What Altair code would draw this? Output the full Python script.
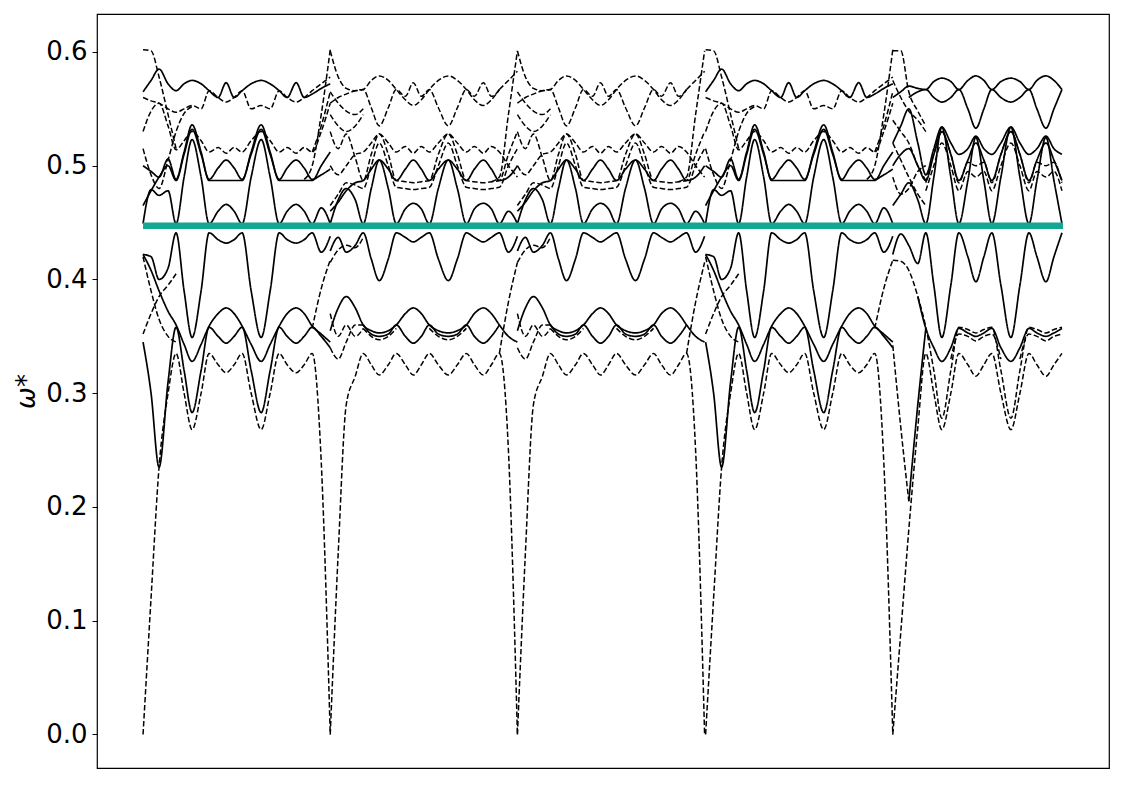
import altair as alt
import pandas as pd

N = None

# position grid inside one segment of the path (same units as x axis)
GRID_T = [0, 8, 16, 25, 33, 41, 49, 58, 66, 75, 83, 91, 99, 108, 118, 127, 136, 144, 153, 161, 169, 178, 187]
SEG_STARTS = [0, 187, 374, 562, 749]
SEG_TYPES = ["A", "B", "B", "A", "C"]
X_END = 919
GAP_LEVEL = 0.4472

# ---- segment type A (1st and 4th segment) ----
A_S1 = [0.449, 0.479, 0.474, 0.478, 0.449, 0.490, 0.523, 0.490, 0.449, 0.460, 0.466, 0.460, 0.449, 0.490, 0.523, 0.490, 0.449, 0.460, 0.466, 0.460, 0.449, 0.463, 0.449]
A_S2 = [0.500, 0.495, 0.490, 0.506, 0.488, 0.512, 0.536, 0.512, 0.487, 0.487, 0.487, 0.487, 0.487, 0.512, 0.536, 0.512, 0.487, 0.487, 0.487, 0.487, 0.487, 0.500, 0.512]
A_S3 = [0.465, 0.478, 0.490, 0.500, 0.487, 0.510, 0.532, 0.510, 0.488, 0.498, 0.505, 0.498, 0.488, 0.510, 0.532, 0.510, 0.488, 0.498, 0.505, 0.498, 0.488, 0.492, 0.497]
A_S4 = [0.565, 0.575, 0.585, 0.572, 0.566, 0.572, 0.575, 0.572, 0.566, 0.560, 0.573, 0.560, 0.566, 0.572, 0.575, 0.572, 0.566, 0.560, 0.573, 0.560, 0.563, 0.568, 0.572]
A_D1 = [0.530, 0.548, 0.555, 0.535, 0.514, 0.522, 0.530, 0.522, 0.512, 0.516, 0.511, 0.516, 0.512, 0.522, 0.530, 0.522, 0.512, 0.516, 0.511, 0.516, 0.512, 0.530, 0.555]
A_D2 = [0.560, 0.557, 0.555, 0.550, 0.547, 0.550, 0.553, 0.550, 0.566, 0.560, 0.556, 0.560, 0.566, 0.550, 0.553, 0.550, 0.566, 0.560, 0.556, 0.560, 0.566, 0.572, 0.578]
A_D3 = [0.602, 0.601, 0.578, 0.545, 0.515] + [N] * 18
A_D4 = [0.515, 0.492, 0.480, 0.505, 0.530, 0.546, 0.552] + [N] * 16
A_D5 = [N] * 19 + [0.488, 0.500, 0.545, 0.602]
A_D6 = [N] * 20 + [0.512, 0.535, 0.565]
A_L1 = [0.422, 0.420, 0.400, 0.410, 0.441, 0.390, 0.349, 0.390, 0.441, 0.435, 0.432, 0.435, 0.441, 0.390, 0.349, 0.390, 0.441, 0.435, 0.432, 0.435, 0.441, 0.424, 0.438]
A_L2 = [0.422, 0.408, 0.390, 0.372, 0.360, 0.343, 0.328, 0.343, 0.359, 0.370, 0.375, 0.370, 0.359, 0.343, 0.328, 0.343, 0.359, 0.370, 0.375, 0.370, 0.359, 0.352, 0.345]
A_L4 = [0.345, 0.300, 0.235, 0.310, 0.358, 0.320, 0.283, 0.320, 0.358, 0.350, 0.344, 0.350, 0.358, 0.320, 0.283, 0.320, 0.358, 0.350, 0.344, 0.350, 0.358, 0.350, 0.340]
A_LD1 = [0.000, 0.120, 0.235, 0.300, 0.335, 0.300, 0.268, 0.300, 0.335, 0.325, 0.318, 0.325, 0.335, 0.300, 0.268, 0.300, 0.335, 0.325, 0.318, 0.325, 0.335, 0.240, 0.000]
A_LD2 = [0.420, 0.390, 0.365, 0.350, 0.345] + [N] * 18
A_LD3 = [0.352, 0.370, 0.385, 0.395, 0.405] + [N] * 18
A_LD4 = [N] * 20 + [0.357, 0.392, 0.417]

# ---- segment type B (2nd and 3rd segment) ----
B_S1 = [0.449, 0.470, 0.480, 0.470, 0.449, 0.480, 0.505, 0.480, 0.449, 0.462, 0.467, 0.462, 0.449, 0.480, 0.505, 0.480, 0.449, 0.462, 0.467, 0.462, 0.449, 0.460, 0.449]
B_S2 = [0.460, 0.468, 0.478, 0.485, 0.487, 0.497, 0.505, 0.497, 0.487, 0.497, 0.505, 0.497, 0.487, 0.497, 0.505, 0.497, 0.487, 0.497, 0.505, 0.497, 0.487, 0.490, 0.500]
B_D1 = [0.530, 0.515, 0.528, 0.507, 0.487, 0.510, 0.528, 0.510, 0.487, 0.486, 0.485, 0.486, 0.487, 0.510, 0.528, 0.510, 0.487, 0.486, 0.485, 0.486, 0.487, 0.510, 0.530]
B_D2 = [0.500, 0.492, 0.500, 0.510, 0.512, 0.520, 0.528, 0.520, 0.512, 0.517, 0.511, 0.517, 0.512, 0.520, 0.528, 0.520, 0.512, 0.517, 0.511, 0.517, 0.512, 0.500, 0.490]
B_D8 = [0.465, 0.475, 0.485, 0.483, 0.480, 0.500, 0.520, 0.500, 0.481, 0.480, 0.479, 0.480, 0.481, 0.500, 0.520, 0.500, 0.481, 0.480, 0.479, 0.480, 0.481, 0.500, 0.515]
B_D3 = [0.601, 0.578, 0.568, 0.566, 0.567, 0.575, 0.579, 0.575, 0.567, 0.558, 0.553, 0.558, 0.567, 0.575, 0.579, 0.575, 0.567, 0.558, 0.553, 0.558, 0.567, N, N]
B_D4 = [0.555, 0.560, 0.563, 0.566, 0.567, 0.551, 0.535, 0.551, 0.567, 0.561, 0.573, 0.561, 0.567, 0.551, 0.535, 0.551, 0.567, 0.561, 0.573, 0.561, 0.567, N, N]
B_D6 = [0.565, 0.555, 0.548, 0.545, 0.550] + [N] * 18
B_D7 = [0.545, 0.535, 0.530, 0.535, 0.545] + [N] * 18
B_D9 = [N] * 19 + [0.486, 0.490, 0.545, 0.601]
B_D10 = [N] * 20 + [0.567, 0.575, 0.583]
B_L1 = [0.425, 0.437, 0.424, 0.430, 0.441, 0.418, 0.399, 0.418, 0.441, 0.437, 0.433, 0.437, 0.441, 0.418, 0.399, 0.418, 0.441, 0.437, 0.433, 0.437, 0.441, 0.424, 0.438]
B_L2 = [0.355, 0.375, 0.385, 0.375, 0.360, 0.355, 0.353, 0.355, 0.360, 0.370, 0.375, 0.370, 0.360, 0.355, 0.353, 0.355, 0.360, 0.370, 0.375, 0.370, 0.360, 0.350, 0.345]
B_L3 = [N, N, N, N, 0.360, 0.352, 0.350, 0.352, 0.360, 0.350, 0.344, 0.350, 0.360, 0.352, 0.350, 0.352, 0.360, 0.350, 0.344, 0.350, 0.360, N, N]
B_LD2 = [N, N, N, N, 0.357, 0.350, 0.347, 0.350, 0.357, N, N, N, 0.357, 0.350, 0.347, 0.350, 0.357, N, N, N, N, N, N]
B_LD1 = [0.000, 0.160, 0.290, 0.315, 0.335, 0.325, 0.316, 0.325, 0.335, 0.325, 0.316, 0.325, 0.335, 0.325, 0.316, 0.325, 0.335, 0.325, 0.316, 0.325, 0.335, 0.250, 0.000]
B_LD3 = [0.415, 0.426, 0.430, 0.428, 0.437] + [N] * 18
B_LD4 = [0.370, 0.350, 0.360, 0.350, 0.357] + [N] * 18
B_LD5 = [0.340, 0.330, 0.345, 0.360, 0.360] + [N] * 18
B_LD6 = [N] * 20 + [0.335, 0.380, 0.415]

# ---- segment type C (last, shorter segment) ----
C_S1 = [0.465, 0.475, 0.485, 0.470, 0.449, 0.490, 0.534, 0.490, 0.449, 0.487, 0.525, 0.487, 0.449, 0.490, 0.534, 0.490, 0.449, 0.487, 0.525, 0.487, 0.449]
C_M1 = [0.520, 0.535, 0.550, 0.520, 0.492, 0.515, 0.534, 0.520, 0.510, 0.515, 0.526, 0.515, 0.510, 0.520, 0.534, 0.520, 0.510, 0.515, 0.526, 0.515, 0.510]
C_M2 = [0.500, 0.510, 0.515, 0.500, 0.487, 0.510, 0.530, 0.510, 0.487, 0.505, 0.520, 0.505, 0.487, 0.510, 0.530, 0.510, 0.487, 0.505, 0.520, 0.505, 0.487]
C_D5 = [N, N, N, N, 0.485, 0.510, 0.530, 0.510, 0.485, 0.503, 0.500, 0.503, 0.485, 0.510, 0.530, 0.510, 0.485, 0.503, 0.500, 0.503, 0.485]
C_D6 = [N, N, N, N, 0.478, 0.500, 0.520, 0.500, 0.478, 0.495, 0.490, 0.495, 0.478, 0.500, 0.520, 0.500, 0.478, 0.495, 0.490, 0.495, 0.478]
C_U1 = [0.560, 0.565, 0.570, 0.568, 0.567, 0.574, 0.577, 0.574, 0.567, 0.575, 0.579, 0.575, 0.567, 0.574, 0.577, 0.574, 0.567, 0.575, 0.579, 0.575, 0.567]
C_U2 = [N, N, 0.560, 0.565, 0.567, 0.560, 0.556, 0.560, 0.567, 0.550, 0.533, 0.550, 0.567, 0.560, 0.556, 0.560, 0.567, 0.550, 0.533, 0.550, 0.567]
C_D1 = [0.601, 0.601, 0.565, 0.548, 0.535] + [N] * 16
C_D2 = [0.575, 0.560, 0.548, 0.540, 0.530] + [N] * 16
C_D3 = [0.540, 0.530, 0.520, 0.500, 0.487] + [N] * 16
C_D4 = [0.520, 0.505, 0.490, 0.475, 0.465] + [N] * 16
C_D7 = [0.490, 0.475, 0.480, 0.495, 0.500] + [N] * 16
C_L1 = [0.422, 0.440, 0.430, 0.414, 0.441, 0.395, 0.349, 0.395, 0.441, 0.420, 0.398, 0.420, 0.441, 0.395, 0.349, 0.395, 0.441, 0.420, 0.398, 0.420, 0.441]
C_L3 = [N, N, N, 0.385, 0.357, 0.340, 0.328, 0.340, 0.357, 0.353, 0.350, 0.353, 0.357, 0.340, 0.328, 0.340, 0.357, 0.353, 0.350, 0.353, 0.357]
C_LD2 = [0.417, 0.416, 0.408, 0.385, 0.358, 0.320, 0.278, 0.320, 0.358, 0.356, 0.353, 0.356, 0.358, 0.320, 0.278, 0.320, 0.358, 0.356, 0.353, 0.356, 0.358]
C_LD3 = [N, N, N, N, N, N, N, 0.330, 0.352, 0.350, 0.346, 0.350, 0.352, 0.330, N, 0.330, 0.352, 0.350, 0.346, 0.350, 0.352]
C_LD1 = [0.000, 0.090, 0.180, 0.270, 0.335, 0.300, 0.268, 0.300, 0.335, 0.325, 0.315, 0.325, 0.335, 0.300, 0.268, 0.300, 0.335, 0.325, 0.315, 0.325, 0.335]
C_LVa = [0.342, 0.270, 0.205] + [N] * 18
C_LVb = [N, N, 0.205, 0.290, 0.357] + [N] * 16

Y_TICKS = [0.0, 0.1, 0.2, 0.3, 0.4, 0.5, 0.6]

CURVES = {
    "A": [("S1", "solid", A_S1), ("S2", "solid", A_S2), ("S3", "solid", A_S3), ("S4", "solid", A_S4),
          ("D1", "dashed", A_D1), ("D2", "dashed", A_D2), ("D3", "dashed", A_D3), ("D4", "dashed", A_D4),
          ("D5", "dashed", A_D5), ("D6", "dashed", A_D6),
          ("L1", "solid", A_L1), ("L2", "solid", A_L2), ("L4", "solid", A_L4),
          ("LD1", "dashed", A_LD1), ("LD2", "dashed", A_LD2), ("LD3", "dashed", A_LD3), ("LD4", "dashed", A_LD4)],
    "B": [("S1", "solid", B_S1), ("S2", "solid", B_S2),
          ("D1", "dashed", B_D1), ("D2", "dashed", B_D2), ("D8", "dashed", B_D8), ("D3", "dashed", B_D3),
          ("D4", "dashed", B_D4), ("D6", "dashed", B_D6), ("D7", "dashed", B_D7), ("D9", "dashed", B_D9),
          ("D10", "dashed", B_D10),
          ("L1", "solid", B_L1), ("L2", "solid", B_L2), ("L3", "solid", B_L3),
          ("LD1", "dashed", B_LD1), ("LD2", "dashed", B_LD2), ("LD3", "dashed", B_LD3), ("LD4", "dashed", B_LD4),
          ("LD5", "dashed", B_LD5), ("LD6", "dashed", B_LD6)],
    "C": [("S1", "solid", C_S1), ("M1", "solid", C_M1), ("M2", "solid", C_M2),
          ("D5", "dashed", C_D5), ("D6", "dashed", C_D6), ("U1", "solid", C_U1), ("U2", "solid", C_U2),
          ("D1", "dashed", C_D1), ("D2", "dashed", C_D2), ("D3", "dashed", C_D3), ("D4", "dashed", C_D4),
          ("D7", "dashed", C_D7),
          ("L1", "solid", C_L1), ("L3", "solid", C_L3), ("LD1", "dashed", C_LD1), ("LD2", "dashed", C_LD2),
          ("LD3", "dashed", C_LD3), ("LVa", "dashed", C_LVa), ("LVb", "solid", C_LVb)],
}

rows = []
for si, (start, stype) in enumerate(zip(SEG_STARTS, SEG_TYPES)):
    for name, style, vals in CURVES[stype]:
        run = 0
        prev_none = True
        for k, v in enumerate(vals):
            if v is None:
                if not prev_none:
                    run += 1
                prev_none = True
                continue
            prev_none = False
            x = start + GRID_T[k]
            if x > X_END:
                continue
            rows.append({"x": x, "y": v, "series": f"{si}_{name}_{run}", "style": style})

df = pd.DataFrame(rows)
gap_df = pd.DataFrame({"x": [0, X_END], "y": [GAP_LEVEL, GAP_LEVEL]})

x_scale = alt.Scale(domain=[-46, 965], nice=False, zero=False)
y_scale = alt.Scale(domain=[-0.0295, 0.6334], nice=False, zero=False)

bands = alt.Chart(df).mark_line(interpolate="monotone", color="black", clip=True).encode(
    x=alt.X("x:Q", scale=x_scale, axis=None),
    y=alt.Y("y:Q", scale=y_scale,
            axis=alt.Axis(values=Y_TICKS, format=".1f", title="ω*", grid=False, domain=False,
                          tickSize=5, tickColor="black", tickWidth=1, labelPadding=5,
                          labelFontSize=26, labelFont="DejaVu Sans", labelColor="black",
                          titleFontSize=26, titleFont="DejaVu Sans", titleFontStyle="italic",
                          titleFontWeight="normal", titleColor="black", titlePadding=6)),
    detail="series:N",
    strokeDash=alt.StrokeDash("style:N", scale=alt.Scale(domain=["solid", "dashed"], range=[[1, 0], [5.5, 2.5]]), legend=None),
    strokeWidth=alt.StrokeWidth("style:N", scale=alt.Scale(domain=["solid", "dashed"], range=[1.7, 1.5]), legend=None),
)

gap = alt.Chart(gap_df).mark_line(color="#12a693", strokeWidth=6.5).encode(
    x=alt.X("x:Q", scale=x_scale),
    y=alt.Y("y:Q", scale=y_scale),
)

chart = alt.layer(bands, gap).properties(
    width=1012, height=754,
    autosize=alt.AutoSizeParams(type="none"),
    padding={"left": 89, "top": 6, "right": 8, "bottom": 8},
).configure(
    background="white",
    view=alt.ViewConfig(stroke="black", strokeWidth=1.2),
)

chart.save("out.html", embed_options={"renderer": "svg", "actions": False})
